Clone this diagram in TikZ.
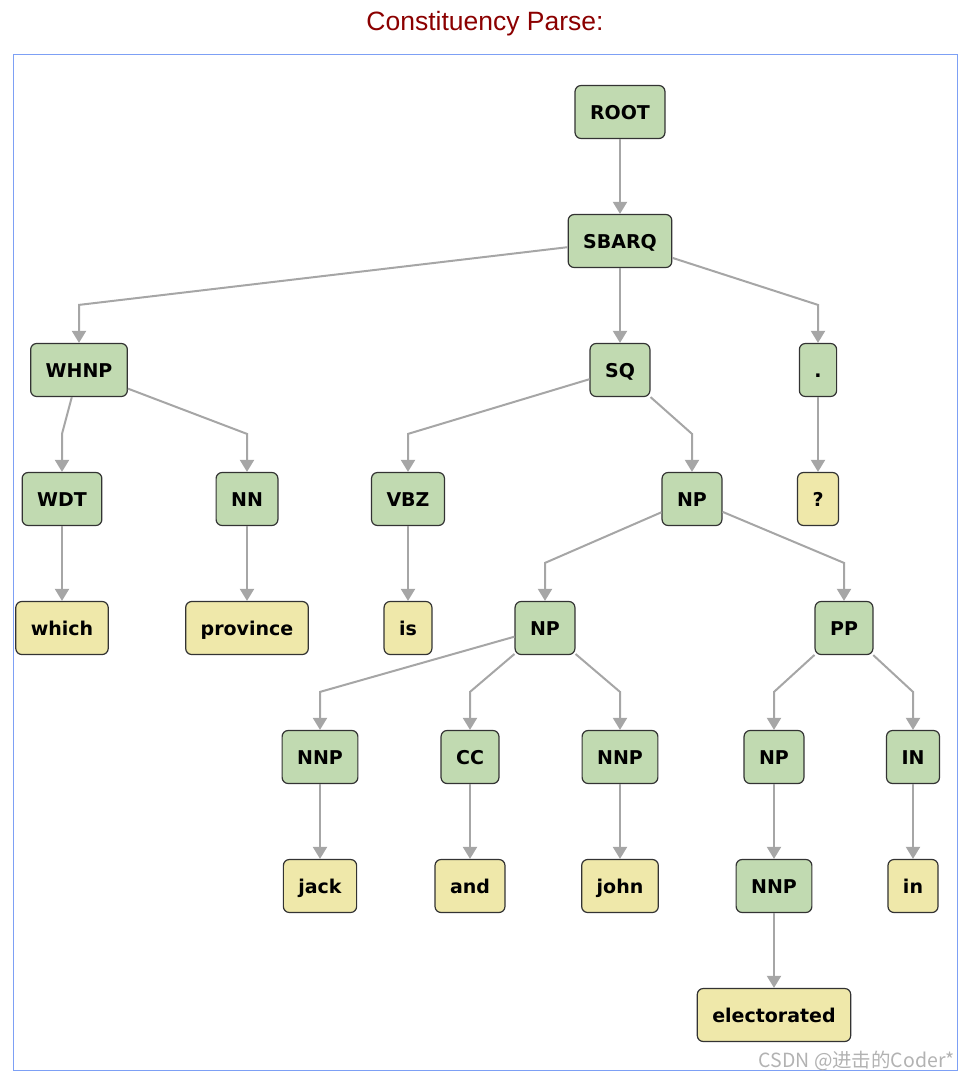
\documentclass[tikz,border=0pt]{standalone}
\usepackage{fontspec}
\setmainfont{DejaVu Sans}
\newfontfamily\titlefont{Liberation Sans}
\newfontfamily\cjk{Noto Sans CJK SC}
\usepackage{xcolor}
\usepackage{tikz}
\usetikzlibrary{arrows.meta, positioning}
\definecolor{phrasegreen}{RGB}{193, 218, 177}
\definecolor{wordyellow}{RGB}{239, 232, 170}
\definecolor{boxline}{RGB}{51, 51, 51}
\definecolor{edgegray}{RGB}{166, 166, 166}
\definecolor{frameblue}{RGB}{125, 160, 245}
\definecolor{titlered}{RGB}{139, 0, 0}

\begin{document}
\begin{tikzpicture}[
        x=1pt, y=-1pt,
        tag/.style = {draw=boxline, line width=1.2pt, rectangle, rounded corners=6pt, minimum height=53pt, inner xsep=15pt, text height=14pt, text depth=0pt, font=\fontsize{19}{22}\selectfont\bfseries},
        phrase/.style = {tag, fill=phrasegreen},
        word/.style = {tag, fill=wordyellow},
        edge/.style = {edgegray, line width=2pt, -{Triangle[width=14pt, length=12pt]}}
    ]
        \useasboundingbox (0,0) rectangle (968,1081);
        \draw [frameblue, line width=1pt] (13,55) rectangle (957,1070);
        \node [titlered, font=\titlefont\fontsize{26.5}{30}\selectfont] (title) at (485,24) {Constituency Parse:};

        % Nodes
        \node [phrase] (root) at (620,112) {ROOT};
        \node [phrase] (sbarq) at (620,241) {SBARQ};
        \node [phrase] (whnp) at (79,370) {WHNP};
        \node [phrase] (sq) at (620,370) {SQ};
        \node [phrase] (punct) at (818,370) {.};
        \node [phrase] (wdt) at (62,499) {WDT};
        \node [phrase] (nn) at (247,499) {NN};
        \node [phrase] (vbz) at (408,499) {VBZ};
        \node [phrase] (np) at (692,499) {NP};
        \node [word] (qmark) at (818,499) {?};
        \node [word] (which) at (62,628) {which};
        \node [word] (province) at (247,628) {province};
        \node [word] (is) at (408,628) {is};
        \node [phrase] (npleft) at (545,628) {NP};
        \node [phrase] (pp) at (844,628) {PP};
        \node [phrase] (nnpjack) at (320,757) {NNP};
        \node [phrase] (cc) at (470,757) {CC};
        \node [phrase] (nnpjohn) at (620,757) {NNP};
        \node [phrase] (npright) at (774,757) {NP};
        \node [phrase] (in) at (913,757) {IN};
        \node [word] (jack) at (320,886) {jack};
        \node [word] (and) at (470,886) {and};
        \node [word] (john) at (620,886) {john};
        \node [phrase] (nnpelect) at (774,886) {NNP};
        \node [word] (inword) at (913,886) {in};
        \node [word] (electorated) at (774,1015) {electorated};

        % Connectors
        \foreach \a/\b in {root/sbarq, sbarq/whnp, sbarq/sq, sbarq/punct,
                whnp/wdt, whnp/nn, sq/vbz, sq/np, punct/qmark,
                wdt/which, nn/province, vbz/is, np/npleft, np/pp,
                npleft/nnpjack, npleft/cc, npleft/nnpjohn, pp/npright, pp/in,
                nnpjack/jack, cc/and, nnpjohn/john, npright/nnpelect, in/inword,
                nnpelect/electorated}
            \draw [edge] (\a) -- ([yshift=38pt]\b.north) -- (\b);

        \node [anchor=east, text=gray!60, font=\cjk\fontsize{19.5}{22}\selectfont, inner sep=0pt] (mark) at (955,1061) {CSDN @进击的Coder*};
    \end{tikzpicture}
\end{document}
